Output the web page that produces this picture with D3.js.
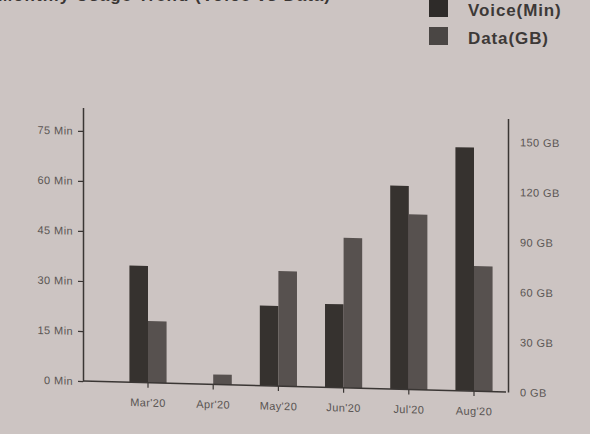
<!DOCTYPE html>
<html>
<head>
<meta charset="utf-8">
<script src="https://cdn.jsdelivr.net/npm/d3@7"></script>
<style>
  html, body { margin: 0; padding: 0; background: #ccc4c2; }
  svg { display: block; font-family: "Liberation Sans", Arial, sans-serif; }
</style>
</head>
<body>
<div id="chart"></div>
<script>
// data
const months = ["Mar'20", "Apr'20", "May'20", "Jun'20", "Jul'20", "Aug'20"];
const voiceMin = [35, 0, 24, 25, 61, 73];
const dataGB = [37, 6, 69, 90, 105, 75];
const voiceTicks = [0, 15, 30, 45, 60, 75];
const dataTicks = [0, 30, 60, 90, 120, 150];
const seriesNames = ["Voice(Min)", "Data(GB)"];

const width = 590, height = 434;
const baseY = 386.5;
const leftX = 83, rightX = 508;

const svg = d3.select("#chart")
    .append("svg")
    .attr("width", width)
    .attr("height", height);

svg.append("rect")
    .attr("width", width)
    .attr("height", height)
    .attr("fill", "#ccc4c2");

// title, mostly cut off by the top edge in the photo
svg.append("text")
    .attr("x", -2)
    .attr("y", 1)
    .attr("textLength", 332)
    .attr("font-size", 17)
    .attr("font-weight", "bold")
    .attr("fill", "#3a3634")
    .text("Monthly Usage Trend (Voice vs Data)");

// legend
const colors = d3.scaleOrdinal().domain(seriesNames).range(["#36322f", "#57514f"]);
const legendColors = ["#2e2b29", "#4a4644"];
const legend = svg.append("g").attr("transform", "translate(429,0)");
seriesNames.forEach((name, i) => {
    const row = legend.append("g").attr("transform", `translate(0,${i * 28})`);
    row.append("rect")
        .attr("y", -1)
        .attr("width", 19)
        .attr("height", 18)
        .attr("fill", legendColors[i]);
    row.append("text")
        .attr("x", 39)
        .attr("y", 10)
        .attr("dy", "0.35em")
        .attr("font-size", 17)
        .attr("font-weight", "bold")
        .attr("letter-spacing", 0.9)
        .attr("fill", "#3d3937")
        .text(name);
});

// the photo is skewed a little: right side sits lower
const chart = svg.append("g")
    .attr("transform", "translate(295,0) skewY(1.47) translate(-295,0)");

// scales
const x = d3.scaleBand()
    .domain(months)
    .range([115.4, 506.6])
    .paddingInner(0.43)
    .paddingOuter(0.215);
const xSub = d3.scaleBand()
    .domain(seriesNames)
    .range([0, x.bandwidth()]);
const yLeft = d3.scaleLinear().domain([0, 82]).range([baseY, baseY - 273.5]);
const yRight = d3.scaleLinear().domain([0, 164]).range([baseY, baseY - 273.5]);

// bars
const groups = chart.append("g")
    .selectAll("g")
    .data(months.map((m, i) => ({ month: m, voice: voiceMin[i], data: dataGB[i] })))
    .join("g")
    .attr("transform", d => `translate(${x(d.month)},0)`);

groups.append("rect")
    .attr("x", xSub("Voice(Min)"))
    .attr("width", xSub.bandwidth())
    .attr("y", d => yLeft(d.voice))
    .attr("height", d => baseY - yLeft(d.voice))
    .attr("fill", colors("Voice(Min)"));

groups.append("rect")
    .attr("x", xSub("Data(GB)"))
    .attr("width", xSub.bandwidth())
    .attr("y", d => yRight(d.data))
    .attr("height", d => baseY - yRight(d.data))
    .attr("fill", colors("Data(GB)"));

// left axis
const leftAxis = chart.append("g")
    .attr("transform", `translate(${leftX},0)`)
    .call(d3.axisLeft(yLeft)
        .tickValues(voiceTicks)
        .tickFormat(d => `${d} Min`)
        .tickSize(5)
        .tickPadding(5)
        .tickSizeOuter(0));

// right axis
const rightAxis = chart.append("g")
    .attr("transform", `translate(${rightX},0)`)
    .call(d3.axisRight(yRight)
        .tickValues(dataTicks)
        .tickFormat(d => `${d} GB`)
        .tickSize(0)
        .tickPadding(12)
        .tickSizeOuter(0));

// x axis
const xAxis = chart.append("g")
    .attr("transform", `translate(0,${baseY})`)
    .call(d3.axisBottom(x)
        .tickSize(5)
        .tickPadding(11));
xAxis.select(".domain").remove();
chart.append("line")
    .attr("x1", leftX)
    .attr("x2", rightX - 2)
    .attr("y1", baseY)
    .attr("y2", baseY)
    .attr("stroke", "#3a3634")
    .attr("stroke-width", 1.5);

[leftAxis, rightAxis, xAxis].forEach(g => {
    g.selectAll(".domain").attr("stroke", "#3a3634").attr("stroke-width", 1.5);
    g.selectAll(".tick line").attr("stroke", "#3a3634").attr("stroke-width", 1.2);
    g.selectAll(".tick text")
        .attr("font-size", 11)
        .attr("letter-spacing", 0.4)
        .attr("fill", "#5a5553")
        .attr("font-family", "Liberation Sans, Arial, sans-serif");
});
</script>
</body>
</html>
